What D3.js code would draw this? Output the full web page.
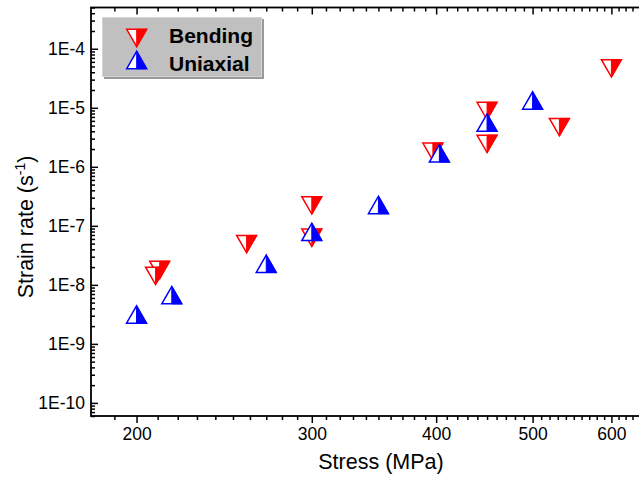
<!DOCTYPE html>
<html>
<head>
<meta charset="utf-8">
<script src="https://cdn.jsdelivr.net/npm/d3@7"></script>
<style>
  body { margin: 0; background: #fff; }
  text { font-family: "Liberation Sans", Arial, sans-serif; }
</style>
</head>
<body>
<div id="chart"></div>
<script>
// data
const bendStress = [211, 209, 258, 300, 300, 397, 450, 450, 532, 600]
const bendRate = [1.79e-8, 1.42e-8, 4.9e-8, 2.22e-7, 6.3e-8, 1.8e-6, 8.8e-6, 2.45e-6, 4.7e-6, 4.65e-5]
const uniStress = [200, 217, 270, 300, 350, 403, 450, 500]
const uniRate = [3.15e-9, 6.7e-9, 2.28e-8, 7.9e-8, 2.26e-7, 1.69e-6, 5.6e-6, 1.33e-5]
const xTicks = [200, 300, 400, 500, 600]
const yTicks = [1e-10, 1e-9, 1e-8, 1e-7, 1e-6, 1e-5, 1e-4]
const yTickLabels = ["1E-10", "1E-9", "1E-8", "1E-7", "1E-6", "1E-5", "1E-4"]
const series = [
    {name: "Bending", color: "#ff0000", dir: "down", xs: bendStress, ys: bendRate},
    {name: "Uniaxial", color: "#0000ff", dir: "up", xs: uniStress, ys: uniRate}
]

const W = 639, H = 477
const L = 91, R = 646, T = 7.5, B = 416

const svg = d3.select("#chart").append("svg")
    .attr("width", W)
    .attr("height", H)

const x = d3.scaleLog().domain([180, 650]).range([L, R])
const y = d3.scaleLog().domain([6e-11, 5e-4]).range([B, T])

// minor ticks
const xMinor = d3.range(190, 650, 10).filter(v => !xTicks.includes(v))
const yMinor = []
for (let e = -11; e <= -4; e++) {
    for (let m = 2; m <= 9; m++) {
        const v = m * Math.pow(10, e)
        if (v >= 6e-11 && v <= 5e-4) yMinor.push(v)
    }
}

const fmtY = d => yTickLabels[yTicks.indexOf(d)]

// bottom axis - ticks outward
svg.append("g")
    .attr("transform", `translate(0,${B})`)
    .call(d3.axisBottom(x).tickValues(xMinor).tickSize(4).tickFormat(""))
svg.append("g")
    .attr("transform", `translate(0,${B})`)
    .call(d3.axisBottom(x).tickValues(xTicks).tickSize(7).tickPadding(5).tickFormat(d3.format("d")))

// top axis - ticks inward
svg.append("g")
    .attr("transform", `translate(0,${T})`)
    .call(d3.axisBottom(x).tickValues(xMinor).tickSize(4).tickFormat(""))
svg.append("g")
    .attr("transform", `translate(0,${T})`)
    .call(d3.axisBottom(x).tickValues(xTicks).tickSize(7).tickFormat(""))

// left axis - ticks inward
svg.append("g")
    .attr("transform", `translate(${L},0)`)
    .call(d3.axisRight(y).tickValues(yMinor).tickSize(4).tickFormat(""))
svg.append("g")
    .attr("transform", `translate(${L},0)`)
    .call(d3.axisRight(y).tickValues(yTicks).tickSize(7).tickFormat(""))

// left labels
svg.append("g")
    .attr("transform", `translate(${L},0)`)
    .call(d3.axisLeft(y).tickValues(yTicks).tickSize(0).tickPadding(6).tickFormat(fmtY))
    .call(g => g.select(".domain").remove())

// right axis - ticks inward
svg.append("g")
    .attr("transform", `translate(${R},0)`)
    .call(d3.axisLeft(y).tickValues(yMinor).tickSize(4).tickFormat(""))
svg.append("g")
    .attr("transform", `translate(${R},0)`)
    .call(d3.axisLeft(y).tickValues(yTicks).tickSize(7).tickFormat(""))

svg.selectAll(".domain").attr("d", null)
svg.selectAll(".tick line").attr("stroke-width", 1.5)
svg.selectAll(".tick text").attr("font-size", "17.5px").attr("fill", "#000")
    .style("font-family", '"Liberation Sans", Arial, sans-serif')

// frame
svg.append("rect")
    .attr("x", L).attr("y", T)
    .attr("width", R - L).attr("height", B - T)
    .attr("fill", "none").attr("stroke", "#000").attr("stroke-width", 1.8)

// axis titles
svg.append("text")
    .attr("x", 381).attr("y", 469)
    .attr("text-anchor", "middle")
    .attr("font-size", "21.5px")
    .text("Stress (MPa)")

const yt = svg.append("text")
    .attr("transform", "translate(33,227) rotate(-90)")
    .attr("text-anchor", "middle")
    .attr("font-size", "21.5px")
yt.append("tspan").text("Strain rate (s")
yt.append("tspan").attr("font-size", "14px").attr("dy", -8).text("-1")
yt.append("tspan").attr("dy", 8).text(")")

// half-filled triangle markers
const hw = 10, hh = 8.7
function marker(g, dir, color) {
    const s = dir === "down" ? 1 : -1
    const full = [[-hw, -hh * s], [hw, -hh * s], [0, hh * s]]
    const right = [[0, -hh * s], [hw, -hh * s], [0, hh * s]]
    g.append("polygon")
        .attr("points", full.map(p => p.join(",")).join(" "))
        .attr("fill", "#fff").attr("stroke", color).attr("stroke-width", 1.5)
    g.append("polygon")
        .attr("points", right.map(p => p.join(",")).join(" "))
        .attr("fill", color).attr("stroke", color).attr("stroke-width", 1)
}

series.forEach(s => {
    const pts = s.xs.map((v, i) => ({sx: v, sy: s.ys[i]}))
    svg.append("g").selectAll("g")
        .data(pts)
        .enter().append("g")
            .attr("transform", d => `translate(${x(d.sx)},${y(d.sy)})`)
            .each(function() { marker(d3.select(this), s.dir, s.color) })
})

// legend
const lg = svg.append("g")
lg.append("rect")
    .attr("x", 104).attr("y", 19).attr("width", 160).attr("height", 60)
    .attr("fill", "#9a9a9a")
lg.append("rect")
    .attr("x", 102.5).attr("y", 17.5).attr("width", 159).attr("height", 59)
    .attr("fill", "#c0c0c0").attr("stroke", "#d4d4d4").attr("stroke-width", 1)
series.forEach((s, i) => {
    const g = lg.append("g").attr("transform", `translate(136.7,${38 + i * 22})`)
    marker(g, s.dir, s.color)
    lg.append("text")
        .attr("x", 169).attr("y", 43.3 + i * 27.4)
        .attr("font-size", "21px").attr("font-weight", "bold")
        .text(s.name)
})
</script>
</body>
</html>
